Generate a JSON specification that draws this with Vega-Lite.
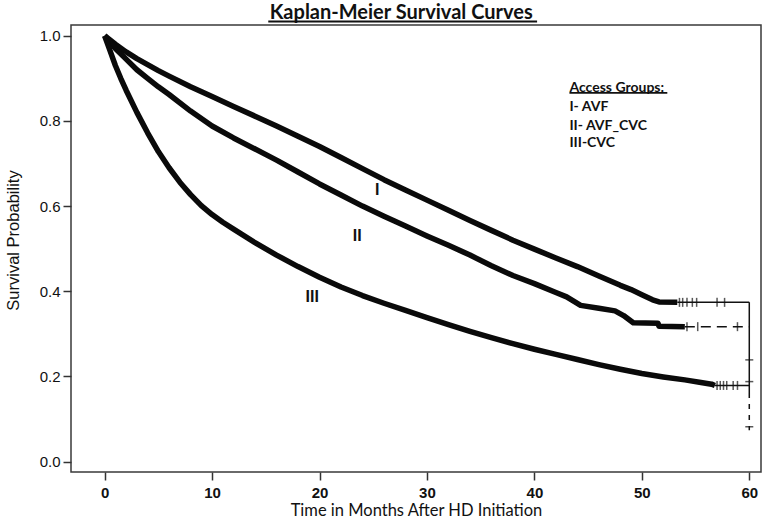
{
  "$schema": "https://vega.github.io/schema/vega-lite/v6.json",
  "width": 690,
  "height": 447,
  "autosize": "none",
  "padding": {"left": 71, "top": 25, "right": 1, "bottom": 53},
  "background": "white",
  "config": {
    "view": {"stroke": "#3a3a3a", "strokeWidth": 1.5},
    "axis": {"grid": false, "domain": false, "tickColor": "#333", "tickWidth": 1.5, "labelColor": "#111", "titleColor": "#111"}
  },
  "datasets": {
    "curves": [
      {"g": "I", "t": 0, "s": 1.0}, {"g": "I", "t": 0.5, "s": 0.99}, {"g": "I", "t": 1, "s": 0.98}, {"g": "I", "t": 2, "s": 0.962}, {"g": "I", "t": 3, "s": 0.946}, {"g": "I", "t": 4, "s": 0.932}, {"g": "I", "t": 5, "s": 0.918}, {"g": "I", "t": 6, "s": 0.905}, {"g": "I", "t": 8, "s": 0.88}, {"g": "I", "t": 10, "s": 0.857}, {"g": "I", "t": 12, "s": 0.834}, {"g": "I", "t": 14, "s": 0.811}, {"g": "I", "t": 16, "s": 0.788}, {"g": "I", "t": 18, "s": 0.764}, {"g": "I", "t": 20, "s": 0.74}, {"g": "I", "t": 22, "s": 0.714}, {"g": "I", "t": 24, "s": 0.688}, {"g": "I", "t": 26, "s": 0.662}, {"g": "I", "t": 28, "s": 0.638}, {"g": "I", "t": 30, "s": 0.614}, {"g": "I", "t": 32, "s": 0.59}, {"g": "I", "t": 34, "s": 0.566}, {"g": "I", "t": 36, "s": 0.543}, {"g": "I", "t": 38, "s": 0.52}, {"g": "I", "t": 40, "s": 0.499}, {"g": "I", "t": 42, "s": 0.478}, {"g": "I", "t": 44, "s": 0.458}, {"g": "I", "t": 46, "s": 0.436}, {"g": "I", "t": 48, "s": 0.414}, {"g": "I", "t": 49, "s": 0.404}, {"g": "I", "t": 50, "s": 0.392}, {"g": "I", "t": 51, "s": 0.38}, {"g": "I", "t": 51.6, "s": 0.375}, {"g": "I", "t": 53.3, "s": 0.374},
      {"g": "II", "t": 0, "s": 1.0}, {"g": "II", "t": 0.5, "s": 0.985}, {"g": "II", "t": 1, "s": 0.97}, {"g": "II", "t": 2, "s": 0.945}, {"g": "II", "t": 3, "s": 0.92}, {"g": "II", "t": 4, "s": 0.9}, {"g": "II", "t": 5, "s": 0.88}, {"g": "II", "t": 6, "s": 0.862}, {"g": "II", "t": 8, "s": 0.823}, {"g": "II", "t": 10, "s": 0.788}, {"g": "II", "t": 12, "s": 0.76}, {"g": "II", "t": 14, "s": 0.734}, {"g": "II", "t": 16, "s": 0.708}, {"g": "II", "t": 18, "s": 0.68}, {"g": "II", "t": 20, "s": 0.652}, {"g": "II", "t": 22, "s": 0.626}, {"g": "II", "t": 24, "s": 0.6}, {"g": "II", "t": 26, "s": 0.576}, {"g": "II", "t": 28, "s": 0.553}, {"g": "II", "t": 30, "s": 0.53}, {"g": "II", "t": 32, "s": 0.508}, {"g": "II", "t": 34, "s": 0.485}, {"g": "II", "t": 36, "s": 0.46}, {"g": "II", "t": 38, "s": 0.437}, {"g": "II", "t": 40, "s": 0.418}, {"g": "II", "t": 42, "s": 0.397}, {"g": "II", "t": 43, "s": 0.387}, {"g": "II", "t": 44.3, "s": 0.367}, {"g": "II", "t": 46, "s": 0.36}, {"g": "II", "t": 47.5, "s": 0.354}, {"g": "II", "t": 48.3, "s": 0.343}, {"g": "II", "t": 49.2, "s": 0.326}, {"g": "II", "t": 51.5, "s": 0.325}, {"g": "II", "t": 51.6, "s": 0.318}, {"g": "II", "t": 54.0, "s": 0.317},
      {"g": "III", "t": 0, "s": 1.0}, {"g": "III", "t": 0.5, "s": 0.965}, {"g": "III", "t": 1, "s": 0.93}, {"g": "III", "t": 1.5, "s": 0.9}, {"g": "III", "t": 2, "s": 0.872}, {"g": "III", "t": 3, "s": 0.82}, {"g": "III", "t": 4, "s": 0.772}, {"g": "III", "t": 5, "s": 0.728}, {"g": "III", "t": 6, "s": 0.69}, {"g": "III", "t": 7, "s": 0.656}, {"g": "III", "t": 8, "s": 0.627}, {"g": "III", "t": 9, "s": 0.601}, {"g": "III", "t": 10, "s": 0.58}, {"g": "III", "t": 11, "s": 0.562}, {"g": "III", "t": 12, "s": 0.546}, {"g": "III", "t": 14, "s": 0.514}, {"g": "III", "t": 16, "s": 0.485}, {"g": "III", "t": 18, "s": 0.458}, {"g": "III", "t": 20, "s": 0.433}, {"g": "III", "t": 22, "s": 0.41}, {"g": "III", "t": 24, "s": 0.39}, {"g": "III", "t": 26, "s": 0.372}, {"g": "III", "t": 28, "s": 0.355}, {"g": "III", "t": 30, "s": 0.338}, {"g": "III", "t": 32, "s": 0.322}, {"g": "III", "t": 34, "s": 0.306}, {"g": "III", "t": 36, "s": 0.291}, {"g": "III", "t": 38, "s": 0.277}, {"g": "III", "t": 40, "s": 0.264}, {"g": "III", "t": 42, "s": 0.252}, {"g": "III", "t": 44, "s": 0.24}, {"g": "III", "t": 46, "s": 0.228}, {"g": "III", "t": 48, "s": 0.217}, {"g": "III", "t": 50, "s": 0.207}, {"g": "III", "t": 52, "s": 0.199}, {"g": "III", "t": 54, "s": 0.192}, {"g": "III", "t": 55.5, "s": 0.186}, {"g": "III", "t": 56.5, "s": 0.182}, {"g": "III", "t": 56.8, "s": 0.179}
    ],
    "tails": [
      {"g": "I", "t": 53.3, "s": 0.374}, {"g": "I", "t": 60, "s": 0.374},
      {"g": "II", "t": 54.0, "s": 0.317}, {"g": "II", "t": 60, "s": 0.317},
      {"g": "III", "t": 56.8, "s": 0.179}, {"g": "III", "t": 60, "s": 0.179},
      {"g": "V", "t": 60, "s": 0.374}, {"g": "V", "t": 60, "s": 0.161},
      {"g": "W", "t": 60, "s": 0.161}, {"g": "W", "t": 60, "s": 0.074}
    ],
    "censor": [
      {"t": 53.5, "s": 0.374}, {"t": 53.8, "s": 0.374}, {"t": 54.2, "s": 0.374}, {"t": 54.7, "s": 0.374}, {"t": 55.1, "s": 0.374}, {"t": 57.0, "s": 0.374}, {"t": 57.7, "s": 0.374},
      {"t": 54.2, "s": 0.317}, {"t": 55.2, "s": 0.317}, {"t": 58.9, "s": 0.317},
      {"t": 57.0, "s": 0.179}, {"t": 57.3, "s": 0.179}, {"t": 57.6, "s": 0.179}, {"t": 57.9, "s": 0.179}, {"t": 58.5, "s": 0.179}, {"t": 58.9, "s": 0.179}
    ],
    "vticks": [
      {"t": 60, "s": 0.239}, {"t": 60, "s": 0.188}, {"t": 60, "s": 0.082}
    ],
    "labels": [
      {"t": 25.37, "s": 0.638, "txt": "I"},
      {"t": 23.5, "s": 0.53, "txt": "II"},
      {"t": 19.32, "s": 0.387, "txt": "III"}
    ],
    "legend": [
      {"t": 43.26, "s": 0.877, "txt": "Access Groups:"},
      {"t": 43.26, "s": 0.833, "txt": "I- AVF"},
      {"t": 43.26, "s": 0.789, "txt": "II- AVF_CVC"},
      {"t": 43.26, "s": 0.748, "txt": "III-CVC"}
    ],
    "underlines": [
      {"t": 43.26, "t2": 52.37, "s": 0.866},
      {"t": 15.23, "t2": 40.25, "s": 1.0333}
    ],
    "titles": [
      {"t": 27.6, "s": 1.04, "txt": "Kaplan-Meier Survival Curves"}
    ]
  },
  "encoding": {
    "x": {
      "field": "t", "type": "quantitative",
      "scale": {"domain": [-3.13, 61.09], "nice": false, "zero": false},
      "axis": {"values": [0, 10, 20, 30, 40, 50, 60], "tickSize": 8, "labelPadding": 5, "labelFont": "Liberation Sans", "labelFontSize": 15, "labelFontWeight": "bold", "title": "Time in Months After HD Initiation", "titleFont": "Lato", "titleFontSize": 16.5, "titleFontWeight": "normal", "titlePadding": 2}
    },
    "y": {
      "field": "s", "type": "quantitative",
      "scale": {"domain": [-0.0242, 1.0251], "nice": false, "zero": false},
      "axis": {"values": [0, 0.2, 0.4, 0.6, 0.8, 1.0], "format": ".1f", "tickSize": 8, "labelPadding": 3, "labelFont": "Liberation Sans", "labelFontSize": 15, "title": "Survival Probability", "titleFont": "Liberation Sans", "titleFontSize": 16.5, "titleFontWeight": "normal", "titlePadding": 18, "titleY": 215}
    }
  },
  "layer": [
    {
      "data": {"name": "curves"},
      "mark": {"type": "line", "stroke": "#0a0a0a", "strokeWidth": 5.5, "strokeJoin": "round"},
      "encoding": {"detail": {"field": "g"}}
    },
    {
      "data": {"name": "tails"},
      "mark": {"type": "line", "stroke": "#111", "strokeWidth": 1.5},
      "encoding": {
        "detail": {"field": "g"},
        "strokeDash": {"field": "g", "type": "nominal", "scale": {"domain": ["I", "II", "III", "V", "W"], "range": [[1, 0], [10, 6], [1, 0], [1, 0], [5, 6]]}, "legend": null}
      }
    },
    {
      "data": {"name": "censor"},
      "mark": {"type": "tick", "orient": "vertical", "color": "#111", "size": 9, "thickness": 1.5}
    },
    {
      "data": {"name": "vticks"},
      "mark": {"type": "tick", "orient": "horizontal", "color": "#111", "size": 8, "thickness": 1.5}
    },
    {
      "data": {"name": "labels"},
      "mark": {"type": "text", "font": "Liberation Sans", "fontSize": 16, "fontWeight": "bold", "color": "#111", "align": "center", "baseline": "middle"},
      "encoding": {"text": {"field": "txt"}}
    },
    {
      "data": {"name": "legend"},
      "mark": {"type": "text", "font": "Lato", "fontSize": 14, "fontWeight": "bold", "color": "#111", "align": "left", "baseline": "middle"},
      "encoding": {"text": {"field": "txt"}}
    },
    {
      "data": {"name": "underlines"},
      "mark": {"type": "rule", "color": "#111", "strokeWidth": 1.8},
      "encoding": {"x2": {"field": "t2"}}
    },
    {
      "data": {"name": "titles"},
      "mark": {"type": "text", "font": "Lato", "fontSize": 20, "fontWeight": "bold", "color": "#111", "align": "center", "baseline": "alphabetic"},
      "encoding": {"text": {"field": "txt"}}
    }
  ]
}
